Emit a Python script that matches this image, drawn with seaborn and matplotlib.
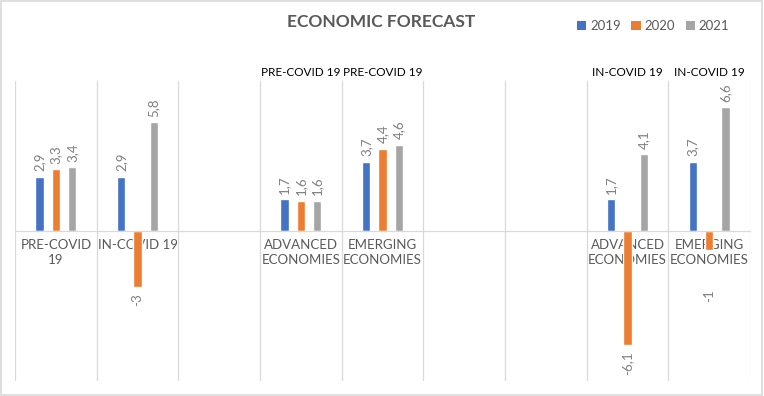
import numpy as np
import pandas as pd
import matplotlib
matplotlib.use("Agg")
import matplotlib.pyplot as plt
import matplotlib.transforms as mtransforms
from matplotlib.patches import Patch, Rectangle
import seaborn as sns

# ---- data ----
categories = ["PRE-COVID\n19", "IN-COVID 19", "", "ADVANCED\nECONOMIES", "EMERGING\nECONOMIES",
              "", "", "ADVANCED\nECONOMIES", "EMERGING\nECONOMIES"]
group_labels = ["", "", "", "PRE-COVID 19", "PRE-COVID 19", "", "", "IN-COVID 19", "IN-COVID 19"]
years = ["2019", "2020", "2021"]
v2019 = [2.9, 2.9, None, 1.7, 3.7, None, None, 1.7, 3.7]
v2020 = [3.3, -3.0, None, 1.6, 4.4, None, None, -6.1, -1.0]
v2021 = [3.4, 5.8, None, 1.6, 4.6, None, None, 4.1, 6.6]
colors = ["#4472C4", "#ED7D31", "#A5A5A5"]
title = "ECONOMIC FORECAST"

rows = []
for year, vals in zip(years, [v2019, v2020, v2021]):
    for slot, v in enumerate(vals):
        rows.append({"slot": slot, "year": year, "value": v})
df = pd.DataFrame(rows).dropna()

sns.set_theme(style="white")
plt.rcParams["font.family"] = ["Lato", "DejaVu Sans"]

fig = plt.figure(figsize=(7.64, 3.96), dpi=100)
ax_h_px = 381 - 81
ax = fig.add_axes([15 / 764, 1 - 381 / 396, (750 - 15) / 764, ax_h_px / 396])

sns.barplot(data=df, x="slot", y="value", hue="year", order=list(range(len(categories))),
            hue_order=years, palette=colors, saturation=1, width=0.6, gap=0.47,
            errorbar=None, legend=False, ax=ax)

ymin, ymax = -8, 8
pt_per_unit = ax_h_px / (ymax - ymin) * 72 / 100
fmt = lambda v: f"{v:g}".replace(".", ",")
for c in ax.containers:
    vals = list(c.datavalues)
    anns = ax.bar_label(c, labels=[fmt(v) for v in vals], rotation=90, padding=4,
                        color="#7f7f7f", fontsize=9.5)
    # short negative bars: push label below the category-label band
    for v, a in zip(vals, anns):
        if v < 0 and abs(v) < 2.8:
            a.xyann = (0, -(4 + (2.8 - abs(v)) * pt_per_unit))

ax.set_xlim(-0.5, len(categories) - 0.5)
ax.set_ylim(ymin, ymax)
ax.set_yticks([])
ax.set_xticks(range(len(categories)))
ax.set_xticklabels(categories)
ax.set_xticks(np.arange(-0.5, len(categories), 1), minor=True)
ax.tick_params(axis="x", which="both", length=0, pad=6, labelcolor="#595959", labelsize=9.5)
ax.grid(which="minor", axis="x", color="#d9d9d9", lw=0.9)
ax.grid(which="major", axis="both", visible=False)
ax.set_axisbelow(True)
ax.set_xlabel("")
ax.set_ylabel("")
for s in ["top", "left", "right"]:
    ax.spines[s].set_visible(False)
ax.spines["bottom"].set_position(("data", 0))
ax.spines["bottom"].set_color("#d9d9d9")
ax.spines["bottom"].set_linewidth(0.9)
for lbl in ax.get_xticklabels():
    lbl.set_linespacing(1.25)

trans = mtransforms.blended_transform_factory(ax.transData, ax.transAxes)
for i, g in enumerate(group_labels):
    if g:
        ax.text(i, 1.03, g, transform=trans, ha="center", va="center", fontsize=8.5, color="black")

fig.text(0.499, 0.945, title, ha="center", va="center", fontsize=12.5, fontweight="bold",
         color="#595959")

handles = [Patch(facecolor=c, edgecolor="none") for c in colors]
fig.legend(handles, years, loc="center", bbox_to_anchor=(0.855, 0.934), ncol=3, frameon=False,
           fontsize=9.5, handlelength=0.7, handleheight=0.7, handletextpad=0.3, columnspacing=0.8,
           labelcolor="#595959")

fig.add_artist(Rectangle((0.001, 0.002), 0.997, 0.995, transform=fig.transFigure, fill=False,
                         edgecolor="#d9d9d9", lw=1.2))

fig.savefig("out.png", dpi=100)
